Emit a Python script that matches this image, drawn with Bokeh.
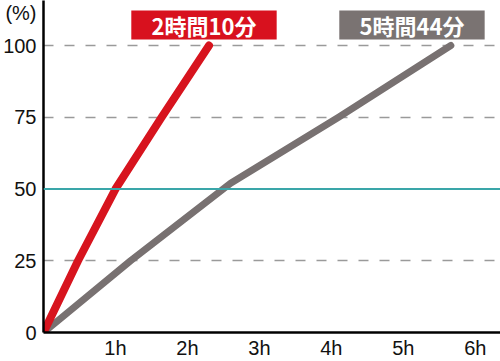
from bokeh.plotting import figure
from bokeh.models import Range1d, FixedTicker, Span, ColumnDataSource
from bokeh.core.properties import value
from bokeh.embed import file_html
from bokeh.resources import INLINE

# data (hours, percent)
red_hours = [0, 0.48, 1.0, 1.64, 2.3]
red_pct = [0, 25, 50, 75, 100]
gray_hours = [0, 1.21, 2.6, 4.1, 5.66]
gray_pct = [0, 25, 52, 75, 100]
x_ticks = [1, 2, 3, 4, 5, 6]
x_tick_labels = ["1h", "2h", "3h", "4h", "5h", "6h"]
y_ticks = [0, 25, 50, 75, 100]
y_unit_pos = 111.5
y_unit_label = "(%)"
grid_levels = [25, 75, 100]
ref_level = 50
label_texts = ["2時間10分", "5時間44分"]
label_left = [1.22, 4.11]
label_right = [3.24, 6.13]
label_bottom = [102.1, 102.1]
label_top = [112.2, 112.2]
label_colors = ["#d8111e", "#7a7372"]

p = figure(width=500, height=361, output_backend="svg", toolbar_location=None,
           x_range=Range1d(0, 6.35), y_range=Range1d(0, 115.7),
           min_border_left=40, min_border_right=0, min_border_top=0, min_border_bottom=20)
p.outline_line_color = None
p.background_fill_color = "white"
p.border_fill_color = "white"

# axes
for ax in (p.xaxis, p.yaxis):
    ax.axis_line_color = "black"
    ax.axis_line_width = 2.5
    ax.major_tick_line_color = None
    ax.minor_tick_line_color = None
    ax.major_tick_out = 0
    ax.major_tick_in = 0
    ax.minor_tick_out = 0
    ax.minor_tick_in = 0
    ax.axis_label_standoff = 0
    ax.major_label_text_font = "Liberation Sans"
    ax.major_label_text_font_size = "20px"
    ax.major_label_text_color = "#111111"
p.xaxis.ticker = FixedTicker(ticks=x_ticks)
p.xaxis.major_label_overrides = {t: l for t, l in zip(x_ticks, x_tick_labels)}
p.xaxis.major_label_standoff = 4
p.yaxis.ticker = FixedTicker(ticks=y_ticks + [y_unit_pos])
p.yaxis.major_label_overrides = {y_unit_pos: y_unit_label}
p.yaxis.major_label_standoff = 7

# grid
p.xgrid.grid_line_color = None
p.ygrid.ticker = FixedTicker(ticks=grid_levels)
p.ygrid.grid_line_color = "#9a9a9a"
p.ygrid.grid_line_width = 1.3
p.ygrid.grid_line_dash = "10 11"

p.add_layout(Span(location=ref_level, dimension="width", line_color="#3aa6a9", line_width=2))

# lines
p.line(gray_hours, gray_pct, line_color="#787171", line_width=7, line_cap="round", line_join="round")
p.line(red_hours, red_pct, line_color="#d7141e", line_width=8, line_cap="round", line_join="round")

# labels
src = ColumnDataSource(dict(left=label_left, right=label_right, bottom=label_bottom, top=label_top,
                            color=label_colors, text=label_texts,
                            xc=[(a + b) / 2 for a, b in zip(label_left, label_right)],
                            yc=[(a + b) / 2 for a, b in zip(label_bottom, label_top)]))
p.quad(left="left", right="right", bottom="bottom", top="top", fill_color="color",
       line_color=None, source=src)
p.text(x="xc", y="yc", text="text", source=src, text_color="white",
       text_font=value("Noto Sans CJK JP"), text_font_style="bold", text_font_size="22px",
       text_align="center", text_baseline="middle")

open("out.html", "w").write(file_html(p, INLINE))
